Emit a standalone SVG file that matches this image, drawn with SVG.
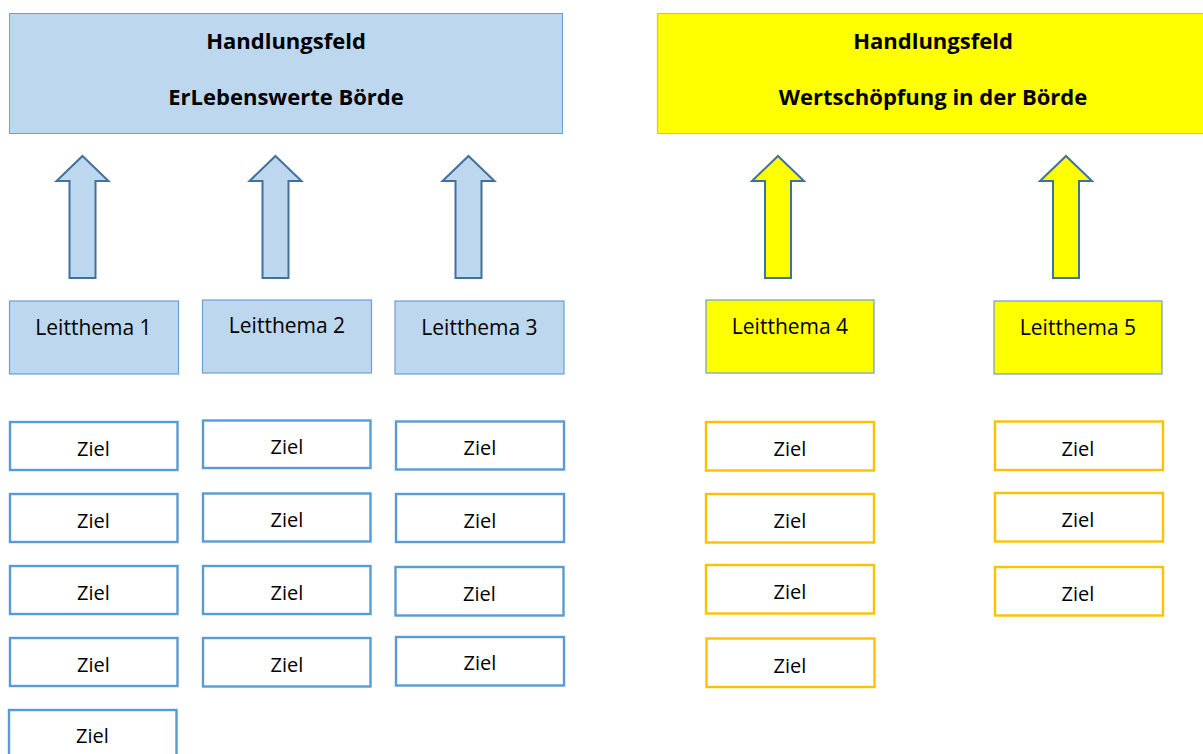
<svg xmlns="http://www.w3.org/2000/svg" width="1203" height="754" viewBox="0 0 1203 754">
<style>
text{font-family:"Open Sans","Noto Sans","Liberation Sans",sans-serif;fill:#000;text-anchor:middle}
.title{font-size:22px;font-weight:bold}
.lt{font-size:21px}
.z{font-size:20px}
.hfb{fill:#BDD7EE;stroke:#6A9FD6;stroke-width:1}
.hfy{fill:#FFFF00;stroke:#FFC000;stroke-width:1.2}
.ltb{fill:#BDD7EE;stroke:#6A9FD6;stroke-width:1.2}
.lty{fill:#FFFF00;stroke:#6A9FD6;stroke-width:1.2}
.zb{fill:#fff;stroke:#5B9BD5;stroke-width:2.4}
.zy{fill:#fff;stroke:#FFC000;stroke-width:2.4}
.arb{fill:#BDD7EE;stroke:#41719C;stroke-width:2}
.ary{fill:#FFFF00;stroke:#41719C;stroke-width:2}
</style>
<defs>
<polygon id="arrow" points="0,156 26,181 13,181 13,278 -13,278 -13,181 -26,181"/>
</defs>
<g id="hf1"><rect class="hfb" x="9.5" y="13.5" width="553" height="120"/><text class="title" x="286" y="49">Handlungsfeld</text><text class="title" x="286" y="105">ErLebenswerte Börde</text></g>
<g id="hf2"><rect class="hfy" x="657.5" y="13.5" width="550" height="120"/><text class="title" x="933" y="49">Handlungsfeld</text><text class="title" x="933" y="105">Wertschöpfung in der Börde</text></g>
<g id="connectors">
<use href="#arrow" class="arb" x="82.5"/>
<use href="#arrow" class="arb" x="275.5"/>
<use href="#arrow" class="arb" x="468.5"/>
<use href="#arrow" class="ary" x="778"/>
<use href="#arrow" class="ary" x="1066"/>
</g>
<g id="lt1"><rect class="ltb" x="9.5" y="301" width="169" height="73"/><text class="lt" x="93.5" y="335">Leitthema 1</text></g>
<g id="lt2"><rect class="ltb" x="202.5" y="300" width="169" height="73"/><text class="lt" x="287" y="333">Leitthema 2</text></g>
<g id="lt3"><rect class="ltb" x="395" y="301" width="169" height="73"/><text class="lt" x="479.5" y="334.5">Leitthema 3</text></g>
<g id="lt4"><rect class="lty" x="706" y="300" width="168" height="73"/><text class="lt" x="790" y="334">Leitthema 4</text></g>
<g id="lt5"><rect class="lty" x="994" y="301" width="168" height="73"/><text class="lt" x="1078" y="335">Leitthema 5</text></g>
<g id="z1_1"><rect class="zb" x="10" y="422" width="167.5" height="48"/><text class="z" x="93.5" y="456">Ziel</text></g>
<g id="z1_2"><rect class="zb" x="10" y="494" width="167.5" height="48"/><text class="z" x="93.5" y="528">Ziel</text></g>
<g id="z1_3"><rect class="zb" x="10" y="566" width="167.5" height="48"/><text class="z" x="93.5" y="600">Ziel</text></g>
<g id="z1_4"><rect class="zb" x="10" y="638" width="167.5" height="48"/><text class="z" x="93.5" y="672">Ziel</text></g>
<g id="z1_5"><rect class="zb" x="9" y="710" width="167.5" height="60"/><text class="z" x="92.5" y="743">Ziel</text></g>
<g id="z2_1"><rect class="zb" x="203" y="420.5" width="167.5" height="47.5"/><text class="z" x="287" y="454">Ziel</text></g>
<g id="z2_2"><rect class="zb" x="203" y="493.5" width="167.5" height="48"/><text class="z" x="287" y="527">Ziel</text></g>
<g id="z2_3"><rect class="zb" x="203" y="566" width="167.5" height="48"/><text class="z" x="287" y="600">Ziel</text></g>
<g id="z2_4"><rect class="zb" x="203" y="638" width="167.5" height="48.5"/><text class="z" x="287" y="672">Ziel</text></g>
<g id="z3_1"><rect class="zb" x="396" y="421.5" width="168" height="48"/><text class="z" x="480" y="455">Ziel</text></g>
<g id="z3_2"><rect class="zb" x="396" y="494" width="168" height="48"/><text class="z" x="480" y="528">Ziel</text></g>
<g id="z3_3"><rect class="zb" x="395.5" y="567" width="168" height="48.5"/><text class="z" x="479.5" y="601">Ziel</text></g>
<g id="z3_4"><rect class="zb" x="396" y="637" width="168" height="48.5"/><text class="z" x="480" y="670">Ziel</text></g>
<g id="z4_1"><rect class="zy" x="706" y="422" width="168" height="48.5"/><text class="z" x="790" y="456">Ziel</text></g>
<g id="z4_2"><rect class="zy" x="706" y="494" width="168" height="48.5"/><text class="z" x="790" y="528">Ziel</text></g>
<g id="z4_3"><rect class="zy" x="706" y="565" width="168" height="48.5"/><text class="z" x="790" y="599">Ziel</text></g>
<g id="z4_4"><rect class="zy" x="706.5" y="638.5" width="168" height="48.5"/><text class="z" x="790" y="673">Ziel</text></g>
<g id="z5_1"><rect class="zy" x="995" y="421.5" width="168" height="48.5"/><text class="z" x="1078" y="456">Ziel</text></g>
<g id="z5_2"><rect class="zy" x="995" y="493" width="168" height="48.5"/><text class="z" x="1078" y="527">Ziel</text></g>
<g id="z5_3"><rect class="zy" x="995" y="567" width="168" height="48.5"/><text class="z" x="1078" y="601">Ziel</text></g>
</svg>
